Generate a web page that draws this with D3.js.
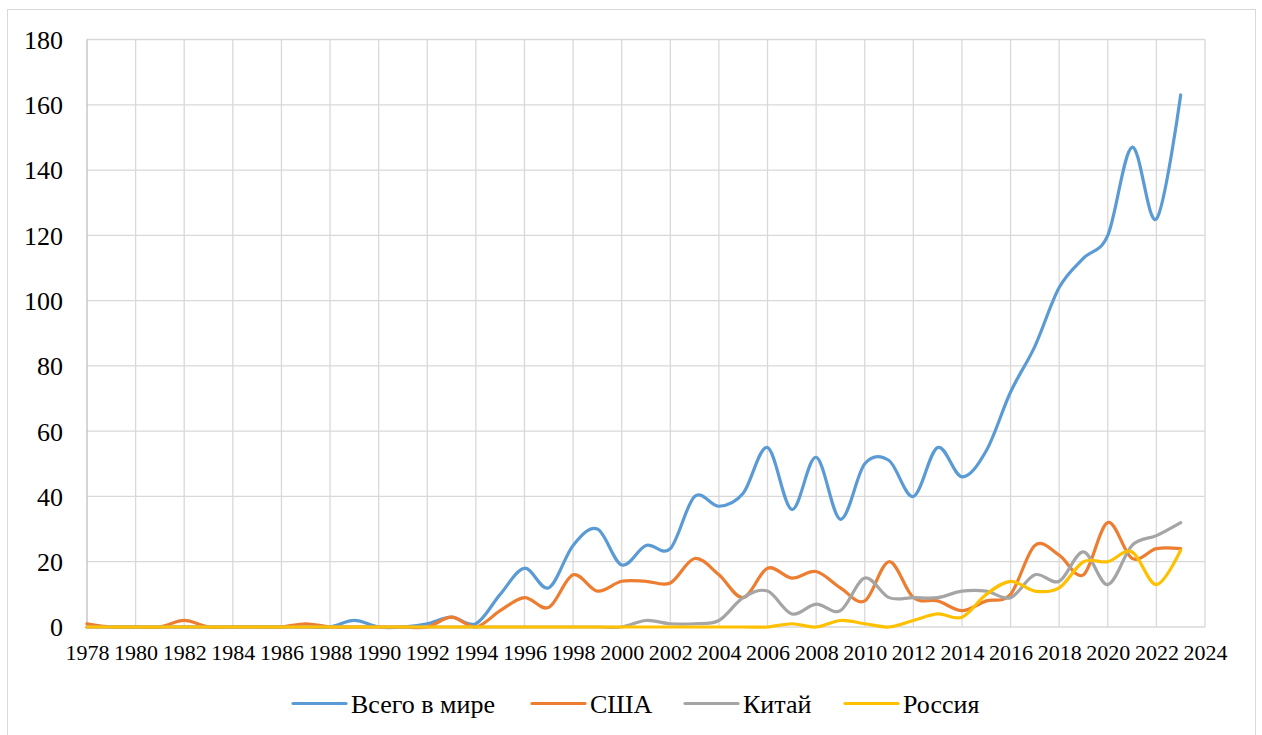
<!DOCTYPE html>
<html><head><meta charset="utf-8">
<script src="https://cdn.jsdelivr.net/npm/d3@7"></script>
<style>body{margin:0;background:#fff}svg{display:block}</style>
</head><body><svg id="c" width="1262" height="735"></svg>
<script>
const years = d3.range(1978, 2024);
const world = [0,0,0,0,0,0,0,0,0,0,0,2,0,0,1,3,1,10,18,12,25,30,19,25,24,40,37,41,55,36,52,33,50,51,40,55,46,54,72,86,104,113,120,147,125,163];
const usa   = [1,0,0,0,2,0,0,0,0,1,0,0,0,0,0,3,0,5,9,6,16,11,14,14,13.5,21,16,9,18,15,17,12,8,20,9,8,5,8,10,25,22,16,32,21,24,24];
const china = [0,0,0,0,0,0,0,0,0,0,0,0,0,0,0,0,0,0,0,0,0,0,0,2,1,1,2,9,11,4,7,5,15,9,9,9,11,11,9,16,14,23,13,25,28,32];
const russia= [0,0,0,0,0,0,0,0,0,0,0,0,0,0,0,0,0,0,0,0,0,0,0,0,0,0,0,0,0,1,0,2,1,0,2,4,3,10,14,11,12,20,20,23,13,23.5];
const seriesNames = ["Всего в мире","США","Китай","Россия"];
const colors = ["#5B9BD5","#ED7D31","#A5A5A5","#FFC000"];
const yTicks = d3.range(0, 181, 20);
const xTicks = d3.range(1978, 2025, 2);
const FONT = "Liberation Serif";

const svg = d3.select("#c");
svg.append("rect").attr("x",7.5).attr("y",9.5).attr("width",1248).attr("height",740)
  .attr("fill","#fff").attr("stroke","#d9d9d9").attr("stroke-width",1);

const x = d3.scaleLinear().domain([1978, 2024]).range([87, 1205]);
const y = d3.scaleLinear().domain([0, 180]).range([627, 39.5]);

const g = svg.append("g");
g.selectAll("line.h").data(yTicks).join("line")
  .attr("x1", x(1978)).attr("x2", x(2024))
  .attr("y1", d=>y(d)).attr("y2", d=>y(d))
  .attr("stroke","#d9d9d9").attr("stroke-width",1.3);
g.selectAll("line.v").data(xTicks).join("line")
  .attr("x1", d=>x(d)).attr("x2", d=>x(d))
  .attr("y1", y(0)).attr("y2", y(180))
  .attr("stroke", d=> d===1978 ? "#bfbfbf" : "#d9d9d9").attr("stroke-width",1.3);

const yAxis = d3.axisLeft(y).tickValues(yTicks).tickSize(0).tickPadding(0);
const ya = svg.append("g").attr("transform","translate(63,0)").call(yAxis);
ya.attr("font-family", null).attr("font-size", null);
ya.select(".domain").remove();
ya.selectAll("text").style("font-family",FONT).style("font-size","26px").attr("fill","#000").attr("dy","0.34em");

const xAxis = d3.axisBottom(x).tickValues(xTicks).tickFormat(d3.format("d")).tickSize(0).tickPadding(0);
const xa = svg.append("g").attr("transform","translate(0,644)").call(xAxis);
xa.attr("font-family", null).attr("font-size", null);
xa.select(".domain").remove();
xa.selectAll("text").style("font-family",FONT).style("font-size","22px").attr("fill","#000").attr("dy","0.71em");

const data = [world, usa, china, russia];
const line = d3.line().x((d,i)=>x(years[i])).y(d=>y(d)).curve(d3.curveCardinal.tension(0));
svg.append("g").selectAll("path").data(data).join("path")
  .attr("d", line).attr("fill","none")
  .attr("stroke",(d,i)=>colors[i]).attr("stroke-width",3.2)
  .attr("stroke-linecap","round").attr("stroke-linejoin","round");

const legX = [293, 532, 685, 845];
const lg = svg.append("g");
seriesNames.forEach((n,i)=>{
  lg.append("line").attr("x1",legX[i]).attr("x2",legX[i]+53).attr("y1",703.5).attr("y2",703.5)
    .attr("stroke",colors[i]).attr("stroke-width",3.2).attr("stroke-linecap","round");
  lg.append("text").attr("x",legX[i]+58).attr("y",713).style("font-family",FONT).style("font-size","26px").attr("fill","#000").text(n);
});
</script></body></html>
